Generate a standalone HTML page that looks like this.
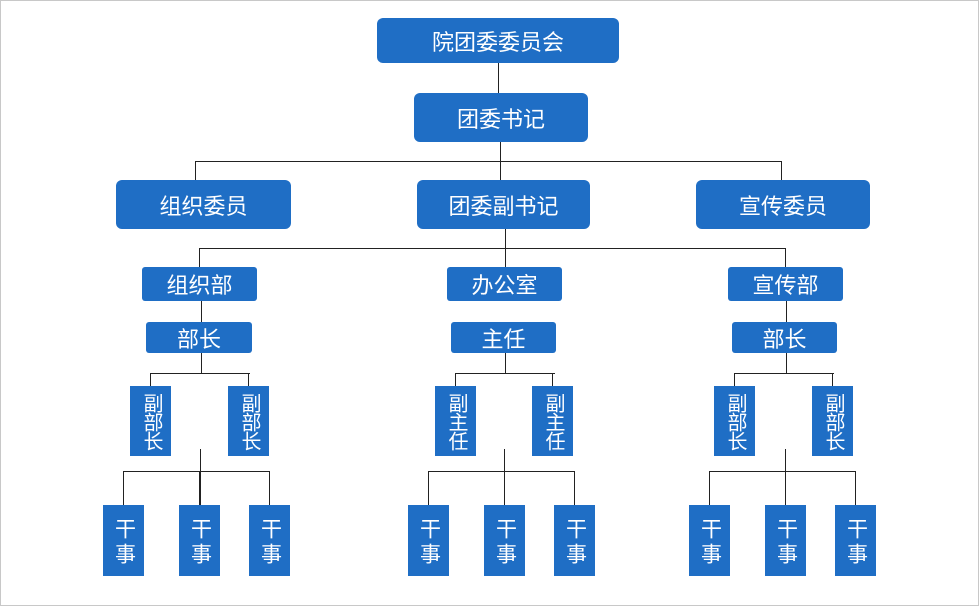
<!DOCTYPE html>
<html><head><meta charset="utf-8"><style>
body{margin:0;background:#fff;}
#c{position:relative;width:977px;height:604px;border:1px solid #c8c8c8;overflow:hidden;font-family:"Liberation Sans","Noto Sans CJK SC",sans-serif;}
.b{position:absolute;background:#1f6ec5;color:#fff;display:flex;align-items:center;justify-content:center;box-sizing:border-box;}
.r{border-radius:6px;font-size:22px;}
.s{border-radius:3px;font-size:22px;}
.v{font-size:20px;line-height:21px;text-align:center;writing-mode:vertical-rl;letter-spacing:-1px;}
.l{position:absolute;background:#222;}
</style></head><body><div id="c">
<div class="b r" style="left:376px;top:17px;width:242px;height:45px">院团委委员会</div>
<div class="b r" style="left:413px;top:92px;width:174px;height:49px">团委书记</div>
<div class="b r" style="left:115px;top:179px;width:175px;height:49px">组织委员</div>
<div class="b r" style="left:416px;top:179px;width:173px;height:49px">团委副书记</div>
<div class="b r" style="left:695px;top:179px;width:174px;height:49px">宣传委员</div>
<div class="b s" style="left:141px;top:266px;width:115px;height:34px">组织部</div>
<div class="b s" style="left:446px;top:266px;width:115px;height:34px">办公室</div>
<div class="b s" style="left:727px;top:266px;width:115px;height:34px">宣传部</div>
<div class="b s" style="left:145px;top:321px;width:106px;height:31px">部长</div>
<div class="b s" style="left:450px;top:321px;width:105px;height:31px">主任</div>
<div class="b s" style="left:731px;top:321px;width:105px;height:31px">部长</div>
<div class="l" style="left:497px;top:62px;width:1px;height:30px"></div>
<div class="l" style="left:499px;top:141px;width:1px;height:38px"></div>
<div class="l" style="left:194px;top:160px;width:587px;height:1px"></div>
<div class="l" style="left:194px;top:160px;width:1px;height:19px"></div>
<div class="l" style="left:780px;top:160px;width:1px;height:19px"></div>
<div class="l" style="left:504px;top:228px;width:1px;height:38px"></div>
<div class="l" style="left:198px;top:247px;width:587px;height:1px"></div>
<div class="l" style="left:198px;top:247px;width:1px;height:19px"></div>
<div class="l" style="left:784px;top:247px;width:1px;height:19px"></div>
<div class="l" style="left:200px;top:300px;width:1px;height:21px"></div>
<div class="l" style="left:785px;top:300px;width:1px;height:21px"></div>
<div id="g"></div>
<script>
var g=[[200,149,248,[129,227],199,[102,178,248],"副部长"],[504,454,553,[434,531],503,[407,483,553],"副主任"],[785,733,832,[713,811],784,[688,764,834],"副部长"]];
var h='';
g.forEach(function(a){
h+='<div class="l" style="left:'+a[0]+'px;top:352px;width:1px;height:20px"></div>';
h+='<div class="l" style="left:'+a[1]+'px;top:372px;width:'+(a[2]-a[1]+1)+'px;height:1px"></div>';
a[3].forEach(function(x){h+='<div class="l" style="left:'+(x+20)+'px;top:372px;width:1px;height:14px"></div>';
h+='<div class="b v" style="left:'+x+'px;top:385px;width:41px;height:70px">'+a[6]+'</div>';});
h+='<div class="l" style="left:'+a[4]+'px;top:448px;width:1px;height:57px"></div>';
var c=a[5];h+='<div class="l" style="left:'+(c[0]+20)+'px;top:470px;width:'+(c[2]-c[0]+1)+'px;height:1px"></div>';
c.forEach(function(x){h+='<div class="l" style="left:'+(x+20)+'px;top:470px;width:1px;height:35px"></div>';
h+='<div class="b v" style="left:'+x+'px;top:504px;width:41px;height:71px;font-size:21px;line-height:24px;letter-spacing:4px;padding-top:4px">干事</div>';});
});
document.getElementById('g').outerHTML=h;
</script>
</div></body></html>
